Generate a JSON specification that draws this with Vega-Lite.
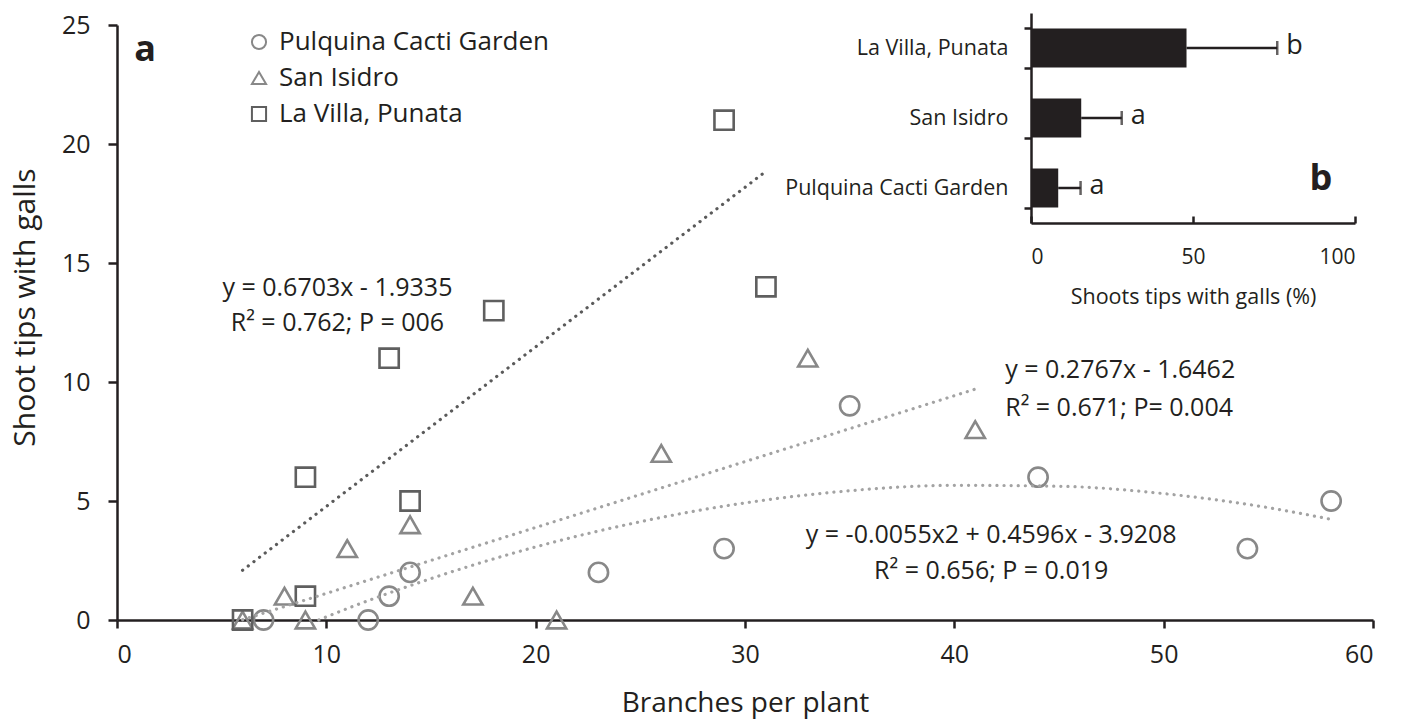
{
  "$schema": "https://vega.github.io/schema/vega-lite/v6.json",
  "width": 1256,
  "height": 595,
  "autosize": {"type": "none"},
  "padding": {"left": 117, "top": 25, "right": 35, "bottom": 102},
  "background": "white",
  "config": {
    "font": "Open Sans",
    "view": {"stroke": null},
    "axis": {"grid": false, "domainColor": "#231f20", "tickColor": "#231f20", "labelColor": "#231f20", "titleColor": "#231f20", "labelFont": "Open Sans", "titleFont": "Open Sans", "titleFontWeight": "normal", "domainWidth": 2.5, "tickWidth": 2.5},
    "legend": {"labelFont": "Open Sans"}
  },
  "datasets": {
    "pts": [
      {"site": "Pulquina Cacti Garden", "branches": 7, "tips": 0},
      {"site": "Pulquina Cacti Garden", "branches": 12, "tips": 0},
      {"site": "Pulquina Cacti Garden", "branches": 13, "tips": 1},
      {"site": "Pulquina Cacti Garden", "branches": 14, "tips": 2},
      {"site": "Pulquina Cacti Garden", "branches": 23, "tips": 2},
      {"site": "Pulquina Cacti Garden", "branches": 29, "tips": 3},
      {"site": "Pulquina Cacti Garden", "branches": 35, "tips": 9},
      {"site": "Pulquina Cacti Garden", "branches": 44, "tips": 6},
      {"site": "Pulquina Cacti Garden", "branches": 54, "tips": 3},
      {"site": "Pulquina Cacti Garden", "branches": 58, "tips": 5},
      {"site": "San Isidro", "branches": 6, "tips": 0},
      {"site": "San Isidro", "branches": 8, "tips": 1},
      {"site": "San Isidro", "branches": 9, "tips": 0},
      {"site": "San Isidro", "branches": 11, "tips": 3},
      {"site": "San Isidro", "branches": 14, "tips": 4},
      {"site": "San Isidro", "branches": 17, "tips": 1},
      {"site": "San Isidro", "branches": 21, "tips": 0},
      {"site": "San Isidro", "branches": 26, "tips": 7},
      {"site": "San Isidro", "branches": 33, "tips": 11},
      {"site": "San Isidro", "branches": 41, "tips": 8},
      {"site": "La Villa, Punata", "branches": 6, "tips": 0},
      {"site": "La Villa, Punata", "branches": 9, "tips": 1},
      {"site": "La Villa, Punata", "branches": 9, "tips": 6},
      {"site": "La Villa, Punata", "branches": 13, "tips": 11},
      {"site": "La Villa, Punata", "branches": 14, "tips": 5},
      {"site": "La Villa, Punata", "branches": 18, "tips": 13},
      {"site": "La Villa, Punata", "branches": 29, "tips": 21},
      {"site": "La Villa, Punata", "branches": 31, "tips": 14}
    ],
    "fitVilla": [
      {"branches": 6, "tips": 2.09},
      {"branches": 31, "tips": 18.85}
    ],
    "fitIsidro": [
      {"branches": 6, "tips": 0.01},
      {"branches": 41, "tips": 9.7}
    ],
    "fitPulquina": [
      {"branches": 9.64, "tips": 0},
      {"branches": 10, "tips": 0.13},
      {"branches": 15, "tips": 1.74},
      {"branches": 20, "tips": 3.07},
      {"branches": 25, "tips": 4.13},
      {"branches": 30, "tips": 4.92},
      {"branches": 35, "tips": 5.43},
      {"branches": 40, "tips": 5.66},
      {"branches": 45, "tips": 5.62},
      {"branches": 50, "tips": 5.31},
      {"branches": 55, "tips": 4.72},
      {"branches": 58, "tips": 4.23}
    ],
    "bars": [
      {"site": "La Villa, Punata", "pct": 48, "upper": 76, "letter": "b"},
      {"site": "San Isidro", "pct": 15.5, "upper": 28, "letter": "a"},
      {"site": "Pulquina Cacti Garden", "pct": 8.4, "upper": 15.3, "letter": "a"}
    ]
  },
  "layer": [
    {
      "layer": [
        {
          "data": {"name": "pts"},
          "mark": {"type": "point", "filled": false, "strokeWidth": 2.6, "size": 370, "opacity": 1},
          "encoding": {
            "x": {"field": "branches", "type": "quantitative", "scale": {"domain": [0, 60], "nice": false},
              "axis": {"values": [0, 10, 20, 30, 40, 50, 60], "title": "Branches per plant", "tickSize": 8, "labelFontSize": 25, "labelPadding": 14, "titleFontSize": 28, "titlePadding": 22}},
            "y": {"field": "tips", "type": "quantitative", "scale": {"domain": [0, 25], "nice": false},
              "axis": {"values": [0, 5, 10, 15, 20, 25], "title": "Shoot tips with galls", "tickSize": 9, "labelFontSize": 25, "labelPadding": 18, "titleFontSize": 30, "titlePadding": 21, "titleY": 282}},
            "shape": {"field": "site", "type": "nominal",
              "scale": {"domain": ["Pulquina Cacti Garden", "San Isidro", "La Villa, Punata"], "range": ["circle", "triangle-up", "square"]},
              "legend": {"orient": "none", "legendX": 129, "legendY": 4, "title": null, "labelFontSize": 26, "labelColor": "#231f20", "labelLimit": 500, "symbolSize": 200, "symbolStrokeWidth": 2, "rowPadding": 10, "labelOffset": 7}},
            "stroke": {"field": "site", "type": "nominal",
              "scale": {"domain": ["Pulquina Cacti Garden", "San Isidro", "La Villa, Punata"], "range": ["#888888", "#888888", "#5f5f5f"]},
              "legend": {"orient": "none", "legendX": 129, "legendY": 4, "title": null, "labelFontSize": 26, "labelColor": "#231f20", "labelLimit": 500, "symbolSize": 200, "symbolStrokeWidth": 2, "rowPadding": 10, "labelOffset": 7}}
          }
        },
        {
          "data": {"name": "fitVilla"},
          "mark": {"type": "line", "strokeWidth": 3.2, "strokeDash": [0.1, 7], "strokeCap": "round", "color": "#5a5a5a"},
          "encoding": {
            "x": {"field": "branches", "type": "quantitative"},
            "y": {"field": "tips", "type": "quantitative"}
          }
        },
        {
          "data": {"name": "fitIsidro"},
          "mark": {"type": "line", "strokeWidth": 3.2, "strokeDash": [0.1, 7], "strokeCap": "round", "color": "#a3a3a3"},
          "encoding": {
            "x": {"field": "branches", "type": "quantitative"},
            "y": {"field": "tips", "type": "quantitative"}
          }
        },
        {
          "data": {"name": "fitPulquina"},
          "mark": {"type": "line", "strokeWidth": 3.2, "strokeDash": [0.1, 7], "strokeCap": "round", "color": "#a3a3a3", "interpolate": "monotone"},
          "encoding": {
            "x": {"field": "branches", "type": "quantitative"},
            "y": {"field": "tips", "type": "quantitative"}
          }
        },
        {
          "data": {"values": [
            {"branches": 10.53, "tips": 13.95, "label": "y = 0.6703x - 1.9335"},
            {"branches": 10.53, "tips": 12.48, "label": "R² = 0.762; P = 006"},
            {"branches": 41.76, "tips": 3.57, "label": "y = -0.0055x2 + 0.4596x - 3.9208"},
            {"branches": 41.76, "tips": 2.05, "label": "R² = 0.656; P = 0.019"}
          ]},
          "mark": {"type": "text", "align": "center", "baseline": "middle", "fontSize": 25, "color": "#231f20"},
          "encoding": {
            "x": {"field": "branches", "type": "quantitative"},
            "y": {"field": "tips", "type": "quantitative"},
            "text": {"field": "label"}
          }
        },
        {
          "data": {"values": [
            {"branches": 42.43, "tips": 10.5, "label": "y = 0.2767x - 1.6462"},
            {"branches": 42.43, "tips": 8.9, "label": "R² = 0.671; P= 0.004"}
          ]},
          "mark": {"type": "text", "align": "left", "baseline": "middle", "fontSize": 25, "color": "#231f20"},
          "encoding": {
            "x": {"field": "branches", "type": "quantitative"},
            "y": {"field": "tips", "type": "quantitative"},
            "text": {"field": "label"}
          }
        },
        {
          "data": {"values": [{"branches": 1.34, "tips": 23.95, "label": "a"}]},
          "mark": {"type": "text", "align": "center", "baseline": "middle", "fontSize": 36, "fontWeight": "bold", "color": "#231f20"},
          "encoding": {
            "x": {"field": "branches", "type": "quantitative"},
            "y": {"field": "tips", "type": "quantitative"},
            "text": {"field": "label"}
          }
        }
      ]
    },
    {
      "data": {"name": "bars"},
      "encoding": {
        "y": {"field": "site", "type": "nominal",
          "scale": {"domain": ["La Villa, Punata", "San Isidro", "Pulquina Cacti Garden"], "range": [-12, 198], "paddingInner": 0.44, "paddingOuter": 0.22},
          "axis": {"orient": "left", "offset": -914, "title": null, "tickBand": "extent", "tickSize": 7, "labelPadding": 16, "labelFontSize": 21.5, "labelLimit": 400}}
      },
      "layer": [
        {
          "mark": {"type": "bar", "color": "#231f20"},
          "encoding": {
            "x": {"field": "pct", "type": "quantitative", "scale": {"domain": [0, 100], "range": [914, 1238], "nice": false},
              "axis": {"orient": "bottom", "offset": -397, "values": [0, 50, 100], "tickSize": -7, "labelPadding": 30, "labelFontSize": 21, "title": "Shoots tips with galls (%)", "titleFontSize": 21.5, "titlePadding": 19}}
          }
        },
        {
          "mark": {"type": "rule", "color": "#231f20", "strokeWidth": 2.5},
          "encoding": {
            "x": {"field": "pct", "type": "quantitative"},
            "x2": {"field": "upper"}
          }
        },
        {
          "mark": {"type": "tick", "color": "#231f20", "orient": "vertical", "size": 14, "thickness": 2.5},
          "encoding": {
            "x": {"field": "upper", "type": "quantitative"}
          }
        },
        {
          "mark": {"type": "text", "align": "left", "baseline": "middle", "dx": 9, "dy": -2, "fontSize": 27, "color": "#231f20"},
          "encoding": {
            "x": {"field": "upper", "type": "quantitative"},
            "text": {"field": "letter"}
          }
        },
        {
          "data": {"values": [{"pct": 89.5, "site": "Pulquina Cacti Garden", "label": "b"}]},
          "mark": {"type": "text", "align": "center", "baseline": "middle", "dy": -9, "fontSize": 36, "fontWeight": "bold", "color": "#231f20"},
          "encoding": {
            "x": {"field": "pct", "type": "quantitative"},
            "text": {"field": "label"}
          }
        }
      ]
    }
  ],
  "resolve": {"scale": {"x": "independent", "y": "independent"}, "axis": {"x": "independent", "y": "independent"}}
}
